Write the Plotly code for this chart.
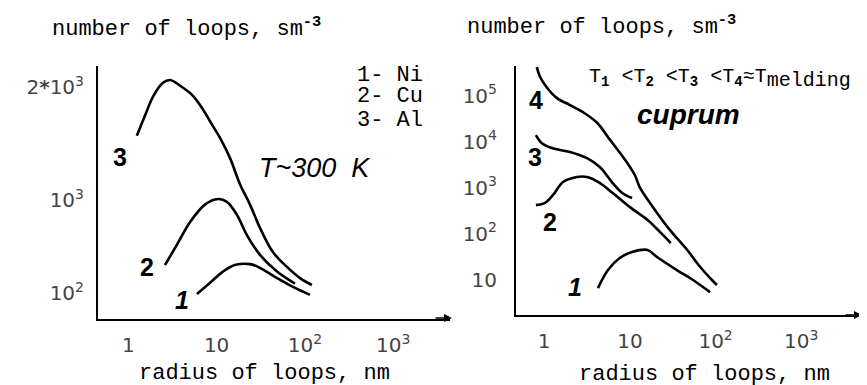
import plotly.graph_objects as go

# The page body has an 8px margin, so the figure is drawn 8px in and 8px down.
OFF = 8
W, H = 867 - OFF, 385 - OFF

# ---------------- data ----------------
# Left panel: T ~ 300 K ; x = loop radius (nm), y = position on the drawn (non-uniform) scale
# y scale levels: 2 -> 10^2, 3 -> 10^3, 4.215 -> 2*10^3
left_ticks_vals = [2, 3, 4.215]
left_ticks_text = ["10<sup>2</sup>", "10<sup>3</sup>", "2<b>*</b>10<sup>3</sup>"]

al_r = [1.25, 1.55, 1.9, 2.47, 2.97, 4.05, 5.27, 6.84, 8.88, 10.9, 14.2, 18.4, 23.9, 31.0, 43.4, 62.6, 88.0, 120]
al_n = [3.69, 3.91, 4.11, 4.26, 4.29, 4.215, 4.13, 3.99, 3.81, 3.67, 3.45, 3.17, 2.95, 2.70, 2.44, 2.28, 2.16, 2.086]

cu_r = [2.6, 3.56, 4.99, 7.38, 10.4, 13.1, 17.0, 22.1, 31.0, 48.3, 77.2]
cu_n = [2.30, 2.52, 2.76, 2.95, 3.01, 2.98, 2.84, 2.62, 2.41, 2.23, 2.10]

ni_r = [5.99, 8.43, 11.8, 16.1, 23.9, 31.0, 48.3, 73.1, 114]
ni_n = [1.99, 2.11, 2.23, 2.30, 2.31, 2.27, 2.16, 2.065, 1.98]

# Right panel: cuprum at T1 < T2 < T3 < T4 ; y = number of loops (log)
t4_r = [0.82, 0.893, 1.08, 1.41, 2.0, 2.84, 4.14, 5.87, 8.3, 11.4, 13.0, 18.6, 29.4, 46.4, 66.2, 90.7, 103.6]
t4_n = [4.2e5, 2.6e5, 1.5e5, 8.9e4, 6.3e4, 4.4e4, 2.6e4, 1.1e4, 4.7e3, 1.9e3, 1.04e3, 3.8e2, 1.2e2, 45, 19, 9.9, 7.7]

t3_r = [0.80, 0.94, 1.23, 2.0, 3.16, 4.48, 6.3, 8.3, 10.6]
t3_n = [1.4e4, 9.3e3, 7.3e3, 6.0e3, 4.4e3, 2.8e3, 1.27e3, 7.5e2, 6.0e2]

t2_r = [0.80, 1.02, 1.27, 1.66, 2.41, 3.16, 4.48, 6.3, 10.0, 16.1, 22.4, 30.0]
t2_n = [4.2e2, 4.7e2, 7.0e2, 1.34e3, 1.72e3, 1.72e3, 1.27e3, 7.7e2, 3.8e2, 2.0e2, 1.1e2, 63]

t1_r = [4.24, 5.55, 7.6, 10.6, 16.1, 20.7, 35.3, 54.5, 86.1]
t1_n = [6.6, 16.3, 29.8, 40.2, 44.5, 31.3, 16.3, 9.9, 5.4]

x_ticks_vals = [1, 10, 100, 1000]
x_ticks_text = ["1", "10", "10<sup>2</sup>", "10<sup>3</sup>"]
right_y_vals = [10, 100, 1e3, 1e4, 1e5]
right_y_text = ["10", "10<sup>2</sup>", "10<sup>3</sup>", "10<sup>4</sup>", "10<sup>5</sup>"]

# ---------------- figure ----------------
fig = go.Figure()
line = dict(color="black", width=2.6, shape="spline", smoothing=1.0)
for xs, ys in [(al_r, al_n), (cu_r, cu_n), (ni_r, ni_n)]:
    fig.add_trace(go.Scatter(x=xs, y=ys, mode="lines", line=line, xaxis="x", yaxis="y",
                             showlegend=False, cliponaxis=False, hoverinfo="skip"))
for xs, ys in [(t4_r, t4_n), (t3_r, t3_n), (t2_r, t2_n), (t1_r, t1_n)]:
    fig.add_trace(go.Scatter(x=xs, y=ys, mode="lines", line=line, xaxis="x2", yaxis="y2",
                             showlegend=False, cliponaxis=False, hoverinfo="skip"))

tickfont = dict(family="DejaVu Sans", size=20, color="#444")
axis_common = dict(showline=True, linecolor="black", linewidth=2, showgrid=False,
                   zeroline=False, ticks="", tickfont=tickfont)


def px(x):
    return (x - OFF) / W


def py(y):
    return 1 - (y - OFF) / H


fig.update_layout(
    width=W, height=H,
    margin=dict(l=0, r=0, t=0, b=0),
    paper_bgcolor="white", plot_bgcolor="white",
    xaxis=dict(type="log", range=[-0.343, 3.643], domain=[px(98), px(450)], anchor="y",
               tickvals=x_ticks_vals, ticktext=x_ticks_text, ticklabelstandoff=7, **axis_common),
    yaxis=dict(type="linear", range=[1.72, 4.441], domain=[py(319), py(66)], anchor="x",
               tickvals=left_ticks_vals, ticktext=left_ticks_text, ticklabelstandoff=8, **axis_common),
    xaxis2=dict(type="log", range=[-0.329, 3.685], domain=[px(516), px(860)], anchor="y2",
                tickvals=x_ticks_vals, ticktext=x_ticks_text, ticklabelstandoff=7, **axis_common),
    yaxis2=dict(type="log", range=[0.235, 5.648], domain=[py(315), py(66)], anchor="x2",
                tickvals=right_y_vals, ticktext=right_y_text, ticklabelstandoff=13, **axis_common),
)

mono = "Liberation Mono"
ann = []


def text(x, y, s, size=22, family=mono, xanchor="left", yanchor="middle", **kw):
    ann.append(dict(x=px(x), y=py(y), xref="paper", yref="paper", text=s, showarrow=False,
                    xanchor=xanchor, yanchor=yanchor,
                    font=dict(family=family, size=size, color="black", **kw)))


# axis titles
text(50, 28, "number of loops, sm<sup><b>-3</b></sup>", size=22)
text(465, 26, "number of loops, sm<sup><b>-3</b></sup>", size=22)
text(137, 373, "radius of loops, nm", size=22)
text(577, 374, "radius of loops, nm", size=22)

# legend left
text(355, 75, "1- Ni", size=22)
text(355, 97, "2- Cu", size=22)
text(355, 120, "3- Al", size=22)

# handwritten labels
hand = "Liberation Sans"
text(257, 168, "T~300  K", size=27, family=hand, style="italic")
text(635, 115, "cuprum", size=28, family=hand, style="italic", weight="bold")
text(587, 78, "T<sub><b>1</b></sub> &lt;T<sub><b>2</b></sub> &lt;T<sub><b>3</b></sub> &lt;T<sub><b>4</b></sub>≈T"
     "<sub><span style='font-size:20px'>melding</span></sub>", size=20)

# curve numbers
for x, y, s, st in [(120, 157, "3", "normal"), (147, 267, "2", "normal"), (182, 300, "1", "italic"),
                    (536, 100, "4", "normal"), (535, 157, "3", "normal"), (550, 222, "2", "normal"),
                    (575, 287, "1", "italic")]:
    text(x, y, s, size=25, family=hand, xanchor="center", style=st, weight="bold")

# axis arrows
for x, y in [(452, 318), (862, 315)]:
    ann.append(dict(x=px(x), y=py(y), xref="paper", yref="paper", ax=-18, ay=0, text="",
                    showarrow=True, arrowhead=2, arrowsize=1, arrowwidth=1.6, arrowcolor="black"))

fig.update_layout(annotations=ann)
fig.write_html("out.html")
